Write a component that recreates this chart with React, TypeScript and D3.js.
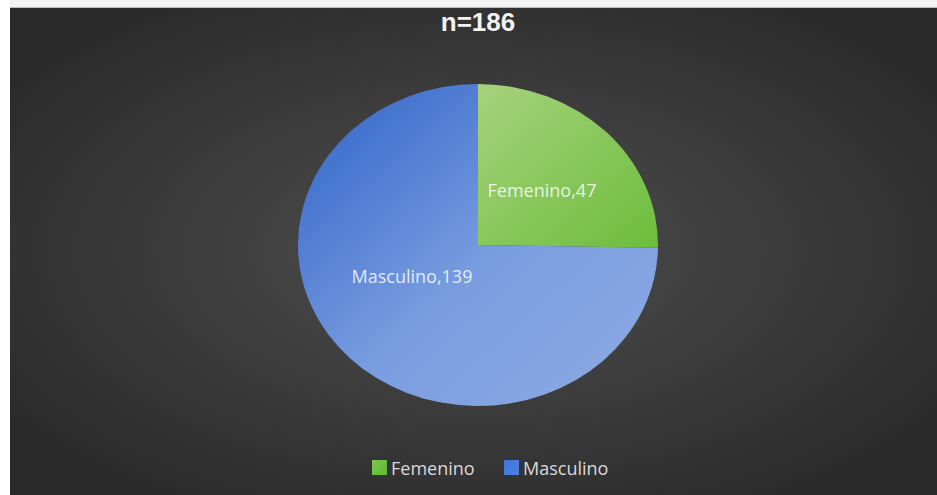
import React from "react";
import * as d3 from "d3";

const categories = ["Femenino", "Masculino"];
const values = [47, 139];
const title = "n=186";

const W = 937;
const H = 495;

export default function App() {
  const cx = 478;
  const cy = 245;
  const r = 161;
  const sx = 180 / 161;
  const pie = d3.pie<number>().sort(null).value((d) => d)(values);
  const arc = d3.arc<d3.PieArcDatum<number>>().innerRadius(0).outerRadius(r);
  const fills = ["url(#gGreen)", "url(#gBlue)"];
  const legendColors = ["url(#lGreen)", "url(#lBlue)"];
  const labelPos = [
    [542, 190],
    [412, 276],
  ];
  const legendX = [372, 504];
  return (
    <svg
      width={W}
      height={H}
      style={{ position: "absolute", left: 0, top: 0, display: "block" }}
      fontFamily="'Open Sans', sans-serif"
    >
      <defs>
        <radialGradient id="bg" cx="50%" cy="50%" r="60%">
          <stop offset="0%" stopColor="#4f4f4f" />
          <stop offset="100%" stopColor="#2b2b2b" />
        </radialGradient>
        <linearGradient id="gGreen" x1="0" y1="0" x2="1" y2="1">
          <stop offset="0%" stopColor="#a6d27c" />
          <stop offset="100%" stopColor="#6cbd3c" />
        </linearGradient>
        <linearGradient id="gBlue" x1="0" y1="0" x2="1" y2="1">
          <stop offset="0%" stopColor="#2f63c8" />
          <stop offset="55%" stopColor="#7a9ee0" />
          <stop offset="100%" stopColor="#8ea9e2" />
        </linearGradient>
        <linearGradient id="lGreen" x1="0" y1="0" x2="1" y2="1">
          <stop offset="0%" stopColor="#7cc850" />
          <stop offset="100%" stopColor="#5fb832" />
        </linearGradient>
        <linearGradient id="lBlue" x1="0" y1="0" x2="1" y2="1">
          <stop offset="0%" stopColor="#3f72d8" />
          <stop offset="100%" stopColor="#4d82e0" />
        </linearGradient>
      </defs>
      <rect x={0} y={0} width={W} height={H} fill="#ffffff" />
      <rect x={10} y={0} width={W - 10} height={7} fill="#f2f2f2" />
      <rect x={10} y={7} width={W - 10} height={H - 7} fill="url(#bg)" />
      <line x1={10} x2={W} y1={7.5} y2={7.5} stroke="#bdbdbd" strokeWidth={1} />
      <text
        x={cx}
        y={31}
        textAnchor="middle"
        fill="#f2f2f2"
        fontSize={26}
        fontWeight="bold"
        fontFamily="'Liberation Sans', Arial, sans-serif"
      >
        {title}
      </text>
      <g transform={`translate(${cx},${cy}) scale(${sx},1)`}>
        {pie.map((p, i) => (
          <path key={categories[i]} d={arc(p) || ""} fill={fills[i]} />
        ))}
      </g>
      {pie.map((p, i) => (
        <text
          key={"l" + i}
          x={labelPos[i][0]}
          y={labelPos[i][1]}
          textAnchor="middle"
          dominantBaseline="central"
          fill="#ffffff"
          fillOpacity={0.82}
          fontSize={18}
        >
          {`${categories[i]},${values[i]}`}
        </text>
      ))}
      {categories.map((c, i) => (
        <g key={"lg" + i} transform={`translate(${legendX[i]},460)`}>
          <rect x={0} y={0} width={15} height={15} fill={legendColors[i]} />
          <text x={19} y={8} dominantBaseline="central" fill="#d9d9d9" fontSize={18}>
            {c}
          </text>
        </g>
      ))}
    </svg>
  );
}
